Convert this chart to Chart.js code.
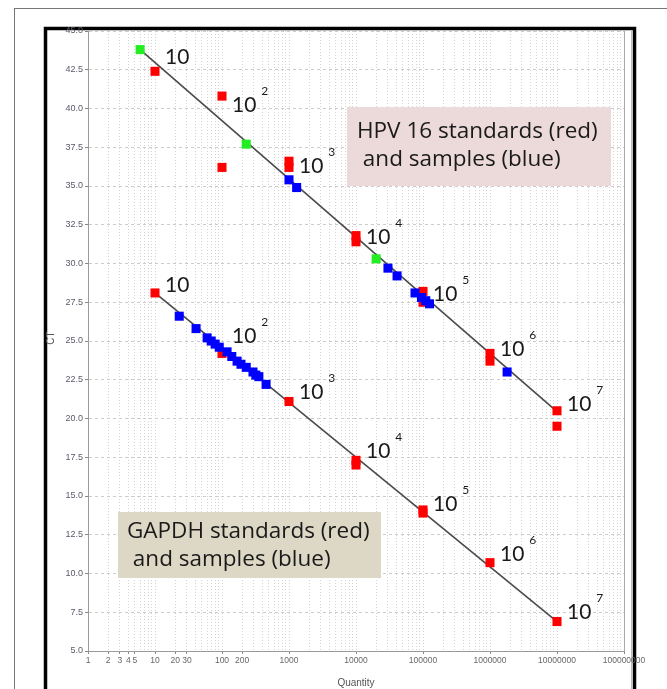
<!DOCTYPE html>
<html>
<head>
<meta charset="utf-8">
<script src="https://cdn.jsdelivr.net/npm/chart.js@4"></script>
<style>
  html, body { margin: 0; padding: 0; background: #fff; }
  #wrap { width: 667px; height: 689px; }
</style>
</head>
<body>
<div id="wrap"><canvas id="stdChart" width="667" height="689"></canvas></div>
<script>
// HPV 16 standards (red), calibrators (green), samples (blue)
const hpvStdQty = [10, 100, 100, 1000, 1000, 10000, 10000, 100000, 100000, 1000000, 1000000, 10000000, 10000000];
const hpvStdCt = [42.4, 40.8, 36.2, 36.6, 36.2, 31.8, 31.4, 28.2, 27.5, 24.2, 23.7, 20.5, 19.5];
const hpvGreenQty = [6, 230, 20000];
const hpvGreenCt = [43.8, 37.7, 30.3];
const hpvSampleQty = [1000, 1300, 30000, 41000, 76000, 95000, 110000, 125000, 1800000];
const hpvSampleCt = [35.4, 34.9, 29.7, 29.2, 28.1, 27.8, 27.6, 27.4, 23.0];
const hpvFitQty = [6, 10000000];
const hpvFitCt = [43.8, 20.45];

// GAPDH standards (red) and samples (blue)
const gapdhStdQty = [10, 100, 1000, 10000, 10000, 100000, 100000, 1000000, 10000000];
const gapdhStdCt = [28.1, 24.2, 21.1, 17.3, 17.0, 14.1, 13.9, 10.7, 6.9];
const gapdhSampleQty = [23, 41, 60, 69, 79, 91, 119, 140, 168, 192, 230, 290, 320, 355, 455];
const gapdhSampleCt = [26.6, 25.8, 25.2, 25.0, 24.8, 24.6, 24.3, 24.0, 23.7, 23.5, 23.3, 23.0, 22.8, 22.7, 22.2];
const gapdhFitQty = [10, 10000000];
const gapdhFitCt = [28.1, 6.9];

// "10^n" annotations
const labelQty = [10, 100, 1000, 10000, 100000, 1000000, 10000000];
const labelExp = ['', '2', '3', '4', '5', '6', '7'];
const hpvLabelCt = [43.3, 40.2, 36.3, 31.7, 28.0, 24.5, 20.9];
const gapdhLabelCt = [28.6, 25.3, 21.7, 17.9, 14.5, 11.25, 7.5];

// x ticks and which ones get a label
const xLabelled = [1, 2, 3, 4, 5, 10, 20, 30, 100, 200, 1000, 10000, 100000, 1000000, 10000000, 100000000];

const pts = (xs, ys) => xs.map((x, i) => ({ x: x, y: ys[i] }));

const decor = {
    id: 'decor',
    beforeDraw(chart) {
        const ctx = chart.ctx;
        ctx.save();
        ctx.fillStyle = '#fff';
        ctx.fillRect(0, 0, chart.width, chart.height);
        ctx.strokeStyle = '#777';
        ctx.lineWidth = 1;
        ctx.strokeRect(14.5, 8.5, 670, 700);
        ctx.strokeStyle = '#000';
        ctx.lineWidth = 3.5;
        ctx.strokeRect(45.5, 28.5, 589, 700);
        ctx.strokeStyle = '#bbb';
        ctx.lineWidth = 1;
        ctx.beginPath();
        ctx.moveTo(631.5, 31);
        ctx.lineTo(631.5, 689);
        ctx.stroke();
        ctx.restore();
    },
    afterDatasetsDraw(chart) {
        const ctx = chart.ctx;
        const xs = chart.scales.x, ys = chart.scales.y;
        ctx.save();

        // right border of plot area
        ctx.strokeStyle = '#aaa';
        ctx.lineWidth = 1;
        ctx.beginPath();
        ctx.moveTo(chart.chartArea.right + 0.5, chart.chartArea.top);
        ctx.lineTo(chart.chartArea.right + 0.5, chart.chartArea.bottom);
        ctx.stroke();

        // legend boxes
        ctx.fillStyle = '#ecdada';
        ctx.fillRect(347, 107, 264, 79);
        ctx.fillStyle = '#ddd8c5';
        ctx.fillRect(118, 512, 263, 66);

        ctx.fillStyle = '#1a1a1a';
        ctx.textBaseline = 'middle';
        ctx.textAlign = 'left';
        ctx.font = '22.5px "Open Sans", Lato, sans-serif';
        ctx.fillText('HPV 16 standards (red)', 357, 132);
        ctx.fillText(' and samples (blue)', 357, 160);
        ctx.fillText('GAPDH standards (red)', 127, 532);
        ctx.fillText(' and samples (blue)', 127, 560);

        // 10^n labels
        const drawPow = (q, ct, exp) => {
            const px = xs.getPixelForValue(q) + 10;
            const py = ys.getPixelForValue(ct);
            ctx.font = '21px Lato, "Open Sans", sans-serif';
            ctx.fillText('10', px, py);
            const w = ctx.measureText('10').width;
            if (exp) {
                ctx.font = '12px Lato, "Open Sans", sans-serif';
                ctx.fillText(exp, px + w + 5, py - 14);
            }
        };
        labelQty.forEach((q, i) => {
            drawPow(q, hpvLabelCt[i], labelExp[i]);
            drawPow(q, gapdhLabelCt[i], labelExp[i]);
        });

        // y title
        ctx.fillStyle = '#555';
        ctx.font = '10px "Liberation Sans", sans-serif';
        ctx.translate(51, 338);
        ctx.rotate(-Math.PI / 2);
        ctx.textAlign = 'center';
        ctx.fillText('CT', 0, 0);
        ctx.restore();
    }
};

const sq = { pointStyle: 'rect', pointRadius: 6.4, pointHoverRadius: 6.4, borderWidth: 0, showLine: false };

new Chart(document.getElementById('stdChart').getContext('2d'), {
    type: 'scatter',
    data: {
        datasets: [
            Object.assign({ label: 'HPV samples', data: pts(hpvSampleQty, hpvSampleCt), backgroundColor: '#0000ff' }, sq),
            Object.assign({ label: 'GAPDH samples', data: pts(gapdhSampleQty, gapdhSampleCt), backgroundColor: '#0000ff' }, sq),
            Object.assign({ label: 'HPV calibrators', data: pts(hpvGreenQty, hpvGreenCt), backgroundColor: '#22ee22' }, sq),
            Object.assign({ label: 'HPV standards', data: pts(hpvStdQty, hpvStdCt), backgroundColor: '#ff0000' }, sq),
            Object.assign({ label: 'GAPDH standards', data: pts(gapdhStdQty, gapdhStdCt), backgroundColor: '#ff0000' }, sq),
            { label: 'HPV fit', data: pts(hpvFitQty, hpvFitCt), showLine: true, pointRadius: 0, borderColor: '#4a4a4a', borderWidth: 1.6 },
            { label: 'GAPDH fit', data: pts(gapdhFitQty, gapdhFitCt), showLine: true, pointRadius: 0, borderColor: '#4a4a4a', borderWidth: 1.6 }
        ]
    },
    options: {
        responsive: false,
        animation: false,
        layout: { padding: { left: 0, right: 43, top: 31, bottom: 0 } },
        plugins: { legend: { display: false }, tooltip: { enabled: false } },
        scales: {
            x: {
                type: 'logarithmic',
                min: 1,
                max: 100000000,
                afterBuildTicks: (scale) => {
                    const t = [];
                    for (let d = 1; d < 100000000; d *= 10) {
                        for (let k = 1; k < 10; k++) t.push({ value: k * d });
                    }
                    t.push({ value: 100000000 });
                    scale.ticks = t;
                },
                afterFit: (scale) => { scale.height = 38; },
                ticks: {
                    autoSkip: false,
                    maxRotation: 0,
                    padding: 2,
                    color: '#666',
                    font: { size: 8.5, family: '"Liberation Sans", sans-serif' },
                    callback: (v) => xLabelled.includes(v) ? String(v) : ''
                },
                grid: {
                    color: '#d4d4d4',
                    tickLength: 3,
                    tickColor: (c) => xLabelled.includes(c.tick.value) ? '#888' : 'rgba(0,0,0,0)',
                    drawOnChartArea: true
                },
                border: { color: '#999', dash: [1, 2] },
                title: { display: true, text: 'Quantity', color: '#555', padding: { top: 1, bottom: 0 }, font: { size: 10, family: '"Liberation Sans", sans-serif' } }
            },
            y: {
                min: 5,
                max: 45,
                afterFit: (scale) => { scale.width = 88; },
                ticks: {
                    stepSize: 2.5,
                    color: '#5a5a6a',
                    padding: 2,
                    font: { size: 9, family: '"Liberation Sans", sans-serif' },
                    callback: (v) => v.toFixed(1)
                },
                grid: { color: '#cccccc', tickLength: 3, tickColor: '#888' },
                border: { color: '#999', dash: [3, 3] }
            }
        }
    },
    plugins: [decor]
});
</script>
</body>
</html>
